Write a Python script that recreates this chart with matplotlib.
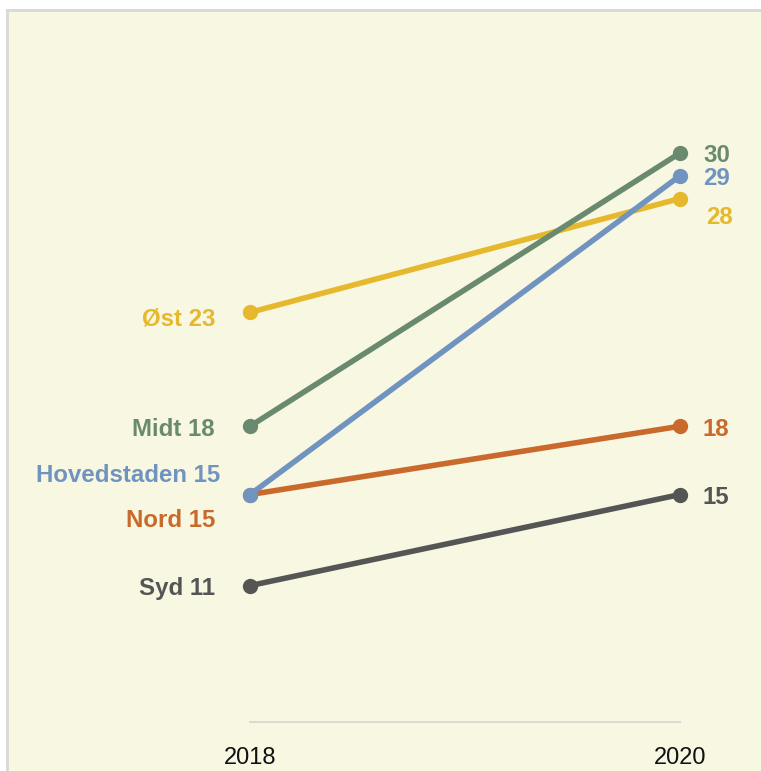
import matplotlib.pyplot as plt

plt.rcParams['font.family'] = ['Liberation Sans', 'DejaVu Sans']

years = [2018, 2020]
regions = ['Øst', 'Midt', 'Hovedstaden', 'Nord', 'Syd']
values_2018 = [23, 18, 15, 15, 11]
values_2020 = [28, 30, 29, 18, 15]
colors = ['#e5b82d', '#6a8a6f', '#7094bf', '#c96a2c', '#555555']

# label nudges in pixels (left label dx, dy, right label dx, dy)
left_offsets = [(-35, -7), (-35, -3), (-30, 19), (-35, -26), (-35, -3)]
right_offsets = [(26, -19), (23, -3), (23, -3), (23, -3), (23, -3)]
draw_order = [0, 3, 4, 1, 2]

bg = '#f8f8e2'
W, H = 761, 771
fig = plt.figure(figsize=(W / 100, H / 100), dpi=100, facecolor='white')
ax = fig.add_axes([7 / W, 0, 1 - 7 / W, 1 - 10 / H])
ax.set_facecolor(bg)

# map data to pixel layout of the original
px_per_year = 215.0
px_per_unit = 22.77
ax.set_xlim(2018 - (250 - 7) / px_per_year, 2020 + (761 - 680) / px_per_year)
ax.set_ylim(30 - (771 - 153) / px_per_unit, 30 + (153 - 10) / px_per_unit)

for s in ['right', 'bottom']:
    ax.spines[s].set_visible(False)
for s in ['left', 'top']:
    ax.spines[s].set_color('#d8d8d8')
    ax.spines[s].set_linewidth(2)
ax.set_xticks([])
ax.set_yticks([])

baseline = 5
ax.plot(years, [baseline, baseline], color='#d9d9d9', lw=1.5, zorder=1)
for yr in years:
    ax.annotate(str(yr), (yr, baseline), xytext=(0, -36), textcoords='offset pixels',
                ha='center', va='center', fontsize=17, color='#111111')

for z, i in enumerate(draw_order):
    c = colors[i]
    ax.plot(years, [values_2018[i], values_2020[i]], color=c, lw=4,
            marker='o', markersize=10, solid_capstyle='round', zorder=3 + z)

for i in range(len(regions)):
    c = colors[i]
    dx, dy = left_offsets[i]
    ax.annotate(f'{regions[i]} {values_2018[i]}', (2018, values_2018[i]),
                xytext=(dx, dy), textcoords='offset pixels', ha='right', va='center',
                fontsize=17.3, fontweight='bold', color=c)
    dx, dy = right_offsets[i]
    ax.annotate(f'{values_2020[i]}', (2020, values_2020[i]),
                xytext=(dx, dy), textcoords='offset pixels', ha='left', va='center',
                fontsize=17.3, fontweight='bold', color=c)

fig.savefig('out.png', dpi=100, facecolor='white')
